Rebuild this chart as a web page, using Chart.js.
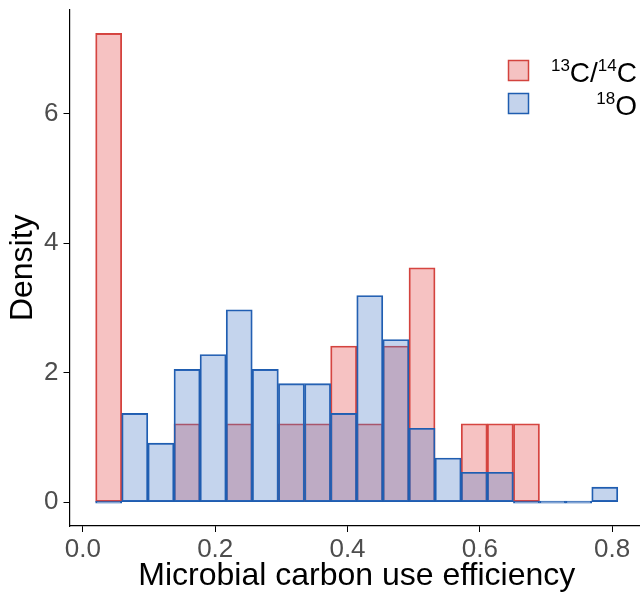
<!DOCTYPE html>
<html>
<head>
<meta charset="utf-8">
<script src="https://cdn.jsdelivr.net/npm/chart.js@4/dist/chart.umd.min.js"></script>
<style>
  html, body { margin: 0; padding: 0; background: #fff; overflow: hidden; }
  #wrap { width: 640px; height: 594px; overflow: hidden; }
</style>
</head>
<body>
<div id="wrap"><canvas id="chart" width="644" height="594"></canvas></div>
<script>
// bin centres of the histogram (cue)
const binCenters = [0.0389, 0.0784, 0.1179, 0.1574, 0.1968, 0.2363, 0.2758, 0.3153, 0.3548, 0.3942,
                    0.4337, 0.4732, 0.5127, 0.5521, 0.5916, 0.6311, 0.6706, 0.7101, 0.7495, 0.7890];
// density per bin
const isoC = [7.24, 0, 0, 1.21, 0, 1.21, 0, 1.21, 1.21, 2.41, 1.21, 2.41, 3.62, 0, 1.21, 1.21, 1.21, 0, 0, 0];
const isoO = [0, 1.37, 0.91, 2.05, 2.28, 2.97, 2.05, 1.83, 1.83, 1.37, 3.19, 2.51, 1.14, 0.68, 0.46, 0.46, 0, 0, 0, 0.23];
const xTicks = [0, 0.2, 0.4, 0.6, 0.8];
const yTicks = [0, 2, 4, 6];
const seriesNames = [["13", "C/", "14", "C"], ["18", "O"]];

const font = "'Liberation Sans', Arial, sans-serif";
const redLine = '#D3433E', redFill = 'rgba(228,80,80,0.35)';
const blueLine = '#1F5DB0', blueFill = 'rgba(70,120,200,0.32)';

function pts(vals) {
    return vals.map((v, i) => ({ x: binCenters[i], y: v }));
}

// legend drawn by hand so the labels can be right aligned with superscripts
const isoLegend = {
    id: 'isoLegend',
    afterDraw(chart) {
        const ctx = chart.ctx;
        const rows = [
            { parts: seriesNames[0], line: redLine, fill: 'rgb(245,194,194)', y: 60 },
            { parts: seriesNames[1], line: blueLine, fill: 'rgb(196,211,236)', y: 93 }
        ];
        ctx.save();
        rows.forEach(r => {
            ctx.fillStyle = r.fill;
            ctx.fillRect(508, r.y, 21, 21);
            ctx.strokeStyle = r.line;
            ctx.lineWidth = 1.5;
            ctx.strokeRect(508.5, r.y + 0.5, 20, 20);
            // measure then draw right aligned
            let w = 0;
            r.parts.forEach((p, k) => {
                ctx.font = (k % 2 === 0 ? '17px ' : '28px ') + font;
                w += ctx.measureText(p).width;
            });
            let x = 637 - w;
            const base = r.y + 22;
            ctx.fillStyle = '#000';
            ctx.textBaseline = 'alphabetic';
            ctx.textAlign = 'left';
            r.parts.forEach((p, k) => {
                const sup = k % 2 === 0;
                ctx.font = (sup ? '17px ' : '28px ') + font;
                ctx.fillText(p, x, sup ? base - 11 : base);
                x += ctx.measureText(p).width;
            });
        });
        ctx.restore();
    }
};

const config = {
    type: 'bar',
    data: {
        datasets: [
            {
                label: '13C/14C',
                data: pts(isoC),
                backgroundColor: redFill,
                borderColor: redLine,
                borderWidth: 1.2,
                borderSkipped: false,
                order: 2
            },
            {
                label: '18O',
                data: pts(isoO),
                backgroundColor: blueFill,
                borderColor: blueLine,
                borderWidth: 1.2,
                borderSkipped: false,
                minBarLength: 2,
                order: 1
            }
        ]
    },
    options: {
        responsive: false,
        animation: false,
        devicePixelRatio: 1,
        layout: { padding: { top: 9.5, left: 0, right: 0, bottom: 0 } },
        datasets: { bar: { grouped: false, barPercentage: 1, categoryPercentage: 1 } },
        plugins: { legend: { display: false }, tooltip: { enabled: false } },
        scales: {
            x: {
                type: 'linear',
                min: -0.0203,
                max: 0.8483,
                offset: false,
                afterFit: s => { s.height = 68; s.paddingLeft = 0; s.paddingRight = 0; },
                afterBuildTicks: s => { s.ticks = xTicks.map(v => ({ value: v })); },
                ticks: {
                    callback: v => Math.abs(v).toFixed(1),
                    font: { size: 26, family: font },
                    color: '#4D4D4D',
                    padding: 2,
                    maxRotation: 0
                },
                grid: { offset: false, drawOnChartArea: false, drawTicks: true, tickLength: 6, color: '#000' },
                border: { display: true, color: '#000', width: 1.2 },
                title: {
                    display: true,
                    text: 'Microbial carbon use efficiency',
                    font: { size: 32, family: font, lineHeight: 1 },
                    color: '#000',
                    padding: { top: 0, bottom: 2 }
                }
            },
            y: {
                min: -0.37,
                max: 7.61,
                afterFit: s => { s.width = 69.5; s.paddingTop = 0; s.paddingBottom = 0; },
                afterBuildTicks: s => { s.ticks = yTicks.map(v => ({ value: v })); },
                ticks: {
                    font: { size: 26, family: font },
                    color: '#4D4D4D',
                    padding: 5
                },
                grid: { offset: false, drawOnChartArea: false, drawTicks: true, tickLength: 6, color: '#000' },
                border: { display: true, color: '#000', width: 1.2 },
                title: {
                    display: true,
                    text: 'Density',
                    font: { size: 32, family: font, lineHeight: 1 },
                    color: '#000',
                    padding: { top: 7, bottom: 0 }
                }
            }
        }
    },
    plugins: [isoLegend]
};

let histChart = new Chart(document.getElementById('chart').getContext('2d'), config);
</script>
</body>
</html>
